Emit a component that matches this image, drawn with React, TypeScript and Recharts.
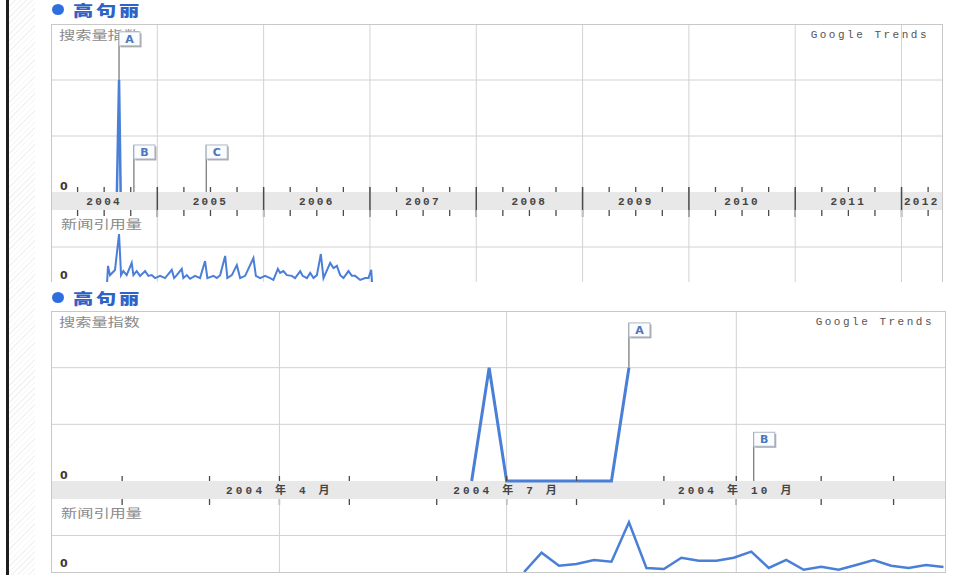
import React from "react";
import { LineChart, Line, XAxis, YAxis, ReferenceLine, ReferenceDot } from "recharts";

// top panel: 2004 - 2012, x in years
const topYearStarts = [2005, 2006, 2007, 2008, 2009, 2010, 2011, 2012];
const topQuarterTicks = [
  2004.25, 2004.5, 2004.75, 2005.25, 2005.5, 2005.75, 2006.25, 2006.5, 2006.75,
  2007.25, 2007.5, 2007.75, 2008.25, 2008.5, 2008.75, 2009.25, 2009.5, 2009.75,
  2010.25, 2010.5, 2010.75, 2011.25, 2011.5, 2011.75, 2012.25,
];
const topLabelPos = [2004.5, 2005.5, 2006.5, 2007.5, 2008.5, 2009.5, 2010.5, 2011.5, 2012.19];
const topLabelText = ["2004", "2005", "2006", "2007", "2008", "2009", "2010", "2011", "2012"];

const topSearchYears = [2004.62, 2004.64, 2004.655];
const topSearchValues = [0, 2, 0];

const topNewsYears = [
  2004.527, 2004.536, 2004.555, 2004.602, 2004.64, 2004.659, 2004.68, 2004.712, 2004.759, 2004.775,
  2004.806, 2004.838, 2004.885, 2004.916, 2004.947, 2004.979, 2005.026, 2005.073, 2005.136, 2005.158,
  2005.183, 2005.23, 2005.245, 2005.277, 2005.308, 2005.355, 2005.402, 2005.449, 2005.471, 2005.528,
  2005.56, 2005.591, 2005.638, 2005.659, 2005.701, 2005.748, 2005.779, 2005.826, 2005.904, 2005.927,
  2005.967, 2006.014, 2006.061, 2006.092, 2006.134, 2006.155, 2006.186, 2006.218, 2006.265, 2006.296,
  2006.344, 2006.367, 2006.407, 2006.438, 2006.469, 2006.501, 2006.538, 2006.563, 2006.626, 2006.657,
  2006.689, 2006.72, 2006.751, 2006.798, 2006.83, 2006.861, 2006.908, 2006.955, 2006.986, 2007.012,
  2007.021,
];
const topNewsValues = [
  0, 0.49, 0.24, 0.38, 1.35, 0.24, 0.35, 0.24, 0.57, 0.24,
  0.35, 0.22, 0.35, 0.22, 0.24, 0.16, 0.22, 0.16, 0.38, 0.16,
  0.24, 0.41, 0.16, 0.24, 0.14, 0.22, 0.16, 0.62, 0.16, 0.22,
  0.16, 0.24, 0.76, 0.16, 0.24, 0.51, 0.16, 0.22, 0.7, 0.22,
  0.16, 0.22, 0.16, 0.11, 0.41, 0.3, 0.35, 0.24, 0.22, 0.16,
  0.35, 0.22, 0.16, 0.3, 0.16, 0.24, 0.81, 0.16, 0.57, 0.43,
  0.49, 0.24, 0.16, 0.35, 0.22, 0.22, 0.11, 0.16, 0.16, 0.38,
  0,
];

const topFlagLetters = ["A", "B", "C"];
const topFlagYears = [2004.64, 2004.78, 2005.46];
const topFlagBase = [2, 0, 0];

// bottom panel: 2004, x in day of year
const bottomQuarterDays = [91, 182, 274];
const bottomLabelText = ["2004 年 4 月", "2004 年 7 月", "2004 年 10 月"];
const bottomWeekTicks = [28, 63, 91, 119, 154, 182, 210, 245, 274, 308, 337];

const bottomSearchDays = [168, 175, 182, 189, 196, 203, 210, 217, 224, 231];
const bottomSearchValues = [0, 2, 0, 0, 0, 0, 0, 0, 0, 2];

const bottomNewsDays = [
  189, 196, 203, 210, 217, 224, 231, 238, 245, 252, 259, 266, 273,
  280, 287, 294, 301, 308, 315, 322, 329, 336, 343, 350, 357,
];
const bottomNewsValues = [
  0, 0.53, 0.17, 0.22, 0.33, 0.28, 1.36, 0.11, 0.08, 0.39, 0.31, 0.31, 0.39,
  0.56, 0.11, 0.33, 0.06, 0.14, 0.06, 0.19, 0.33, 0.17, 0.11, 0.19, 0.14,
];

const bottomFlagLetters = ["A", "B"];
const bottomFlagDays = [231, 281];
const bottomFlagBase = [2, 0];

const BLUE = "#4a7fd8";
const GRID = "#d2d2d2";
const TICK = "#4a4a4a";
const BAND = 18;

type BandCfg = { labels: number[]; texts: string[]; marks: number[]; seps: number[]; spacing: number };

function BandTick(props: any) {
  const { x, y, payload, cfg } = props;
  const v = payload.value;
  const li = cfg.labels.indexOf(v);
  return (
    <g>
      {cfg.seps.includes(v) && (
        <line x1={x} x2={x} y1={y - 5} y2={y + 25} stroke={TICK} strokeWidth={1.5} />
      )}
      {cfg.marks.includes(v) && (
        <g>
          <line x1={x} x2={x} y1={y - 5} y2={y} stroke={TICK} strokeWidth={1.3} />
          <line x1={x} x2={x} y1={y + BAND} y2={y + BAND + 6} stroke={TICK} strokeWidth={1.3} />
        </g>
      )}
      {li >= 0 && (
        <text
          x={x}
          y={y + 13}
          textAnchor="middle"
          fontSize={11}
          fontWeight="bold"
          letterSpacing={cfg.spacing}
          fill="#444"
          fontFamily="'Liberation Mono', 'Noto Sans CJK SC', monospace"
        >
          {cfg.texts[li]}
        </text>
      )}
    </g>
  );
}

function FlagBox(props: any) {
  const { cx, cy, letter } = props;
  return (
    <g>
      <rect x={cx + 1.5} y={cy + 1.5} width={21} height={14} fill="#a8a8a8" />
      <rect x={cx} y={cy} width={21} height={14} fill="#fbfcfe" stroke="#aeb8c8" />
      <text
        x={cx + 10.5}
        y={cy + 11}
        textAnchor="middle"
        fontSize={11}
        fontWeight="bold"
        fill="#4a76c0"
        fontFamily="'DejaVu Sans', sans-serif"
      >
        {letter}
      </text>
    </g>
  );
}

const grayCjk: React.CSSProperties = {
  position: "absolute",
  fontFamily: "'Noto Sans CJK SC', sans-serif",
  fontSize: 12,
  lineHeight: "12px",
  color: "#8a8a8a",
  transform: "scaleX(1.35)",
  transformOrigin: "left center",
  whiteSpace: "nowrap",
};

const zeroStyle: React.CSSProperties = {
  position: "absolute",
  fontFamily: "'DejaVu Sans', sans-serif",
  fontSize: 11,
  lineHeight: "11px",
  fontWeight: "bold",
  color: "#3a3a3a",
};

function Title({ top }: { top: number }) {
  return (
    <>
      <div
        style={{
          position: "absolute",
          left: 52,
          top: top - 6,
          width: 12,
          height: 11,
          borderRadius: "50%",
          background: "#2e6fe0",
        }}
      />
      <div
        style={{
          position: "absolute",
          left: 73,
          top: top - 9,
          fontFamily: "'Noto Sans CJK SC', sans-serif",
          fontSize: 15,
          lineHeight: "18px",
          fontWeight: 900,
          letterSpacing: 2,
          color: "#2f62c8",
          transform: "scaleX(1.35)",
          transformOrigin: "left center",
          whiteSpace: "nowrap",
        }}
      >
        高句丽
      </div>
    </>
  );
}

function Panel(props: any) {
  const {
    top, width, searchH, newsH, visibleH, domain, grid, cfg,
    searchX, searchV, newsX, newsV, flagLetters, flagX, flagBase, flagTops,
    searchW, newsW, trendsRight,
  } = props;
  const total = searchH + BAND + newsH;
  const searchRows = searchX.map((x: number, i: number) => ({ x, v: searchV[i] }));
  const newsRows = newsX.map((x: number, i: number) => ({ x, v: newsV[i] }));
  const allTicks = Array.from(
    new Set<number>([...cfg.labels, ...cfg.marks, ...cfg.seps])
  ).sort((a, b) => a - b);

  return (
    <div style={{ position: "absolute", left: 51, top, width, height: visibleH, overflow: "hidden" }}>
      <div style={{ position: "absolute", left: 0, top: searchH, width, height: BAND, background: "#e8e8e8" }} />
      <div style={{ ...grayCjk, left: 8, top: 5 }}>搜索量指数</div>
      <div style={{ ...grayCjk, left: 10, top: searchH + BAND + 8 }}>新闻引用量</div>
      <div
        style={{
          position: "absolute",
          right: trendsRight,
          top: 6,
          fontFamily: "'Liberation Mono', monospace",
          fontSize: 11,
          lineHeight: "11px",
          letterSpacing: 2.5,
          color: "#555",
          whiteSpace: "nowrap",
        }}
      >
        Google Trends
      </div>
      <div style={{ ...zeroStyle, left: 9, top: searchH - 11 }}>0</div>
      <div style={{ ...zeroStyle, left: 9, top: total - 14 }}>0</div>

      <div style={{ position: "absolute", left: 0, top: 0 }}>
        <LineChart
          width={width}
          height={searchH + BAND + 8}
          data={searchRows}
          margin={{ top: 0, right: 0, bottom: 8, left: 0 }}
        >
          <XAxis
            dataKey="x"
            type="number"
            domain={domain}
            ticks={allTicks}
            interval={0}
            tickSize={0}
            tickMargin={0}
            axisLine={false}
            tickLine={false}
            height={BAND}
            tick={(p: any) => <BandTick {...p} cfg={cfg} />}
          />
          <YAxis hide width={0} type="number" domain={[0, 3]} />
          {[1, 2].map((y) => (
            <ReferenceLine key={"h" + y} y={y} stroke={GRID} />
          ))}
          {grid.map((x: number) => (
            <ReferenceLine key={"v" + x} x={x} stroke={GRID} />
          ))}
          {flagLetters.map((l: string, i: number) => (
            <ReferenceLine
              key={"p" + l}
              segment={[
                { x: flagX[i], y: flagBase[i] },
                { x: flagX[i], y: flagTops[i] },
              ]}
              stroke="#555"
              ifOverflow="visible"
            />
          ))}
          <Line
            dataKey="v"
            stroke={BLUE}
            strokeWidth={searchW}
            dot={false}
            isAnimationActive={false}
          />
          {flagLetters.map((l: string, i: number) => (
            <ReferenceDot
              key={"f" + l}
              x={flagX[i]}
              y={flagTops[i]}
              r={3}
              ifOverflow="visible"
              shape={(p: any) => <FlagBox cx={p.cx} cy={p.cy} letter={l} />}
            />
          ))}
        </LineChart>
      </div>

      <div style={{ position: "absolute", left: 0, top: searchH + BAND }}>
        <LineChart
          width={width}
          height={newsH}
          data={newsRows}
          margin={{ top: 0, right: 0, bottom: 0, left: 0 }}
        >
          <XAxis hide dataKey="x" type="number" domain={domain} />
          <YAxis hide width={0} type="number" domain={[0, 2]} />
          <ReferenceLine y={1} stroke={GRID} />
          {grid.map((x: number) => (
            <ReferenceLine key={"v" + x} x={x} stroke={GRID} />
          ))}
          <Line
            dataKey="v"
            stroke={BLUE}
            strokeWidth={newsW}
            dot={false}
            isAnimationActive={false}
          />
        </LineChart>
      </div>

      <div
        style={{
          position: "absolute",
          left: 0,
          top: 0,
          width,
          height: total + 1,
          border: "1px solid #c8c8c8",
          boxSizing: "border-box",
          pointerEvents: "none",
        }}
      />
    </div>
  );
}

export default function App() {
  return (
    <div
      style={{
        position: "fixed",
        left: 0,
        top: 0,
        width: 957,
        height: 575,
        background: "#fff",
        overflow: "hidden",
      }}
    >
      <div style={{ position: "absolute", left: 6, top: 0, width: 3, height: 575, background: "#1e1e1e" }} />
      <div
        style={{
          position: "absolute",
          left: 9,
          top: 0,
          width: 26,
          height: 575,
          background: "repeating-linear-gradient(135deg, #f3f3f3 0px, #f3f3f3 1px, #ffffff 1px, #ffffff 4px)",
        }}
      />

      <Title top={10} />
      <Panel
        top={24}
        width={892}
        searchH={168}
        newsH={74}
        visibleH={258}
        domain={[2004, 2012.39]}
        grid={topYearStarts}
        cfg={{ labels: topLabelPos, texts: topLabelText, marks: topQuarterTicks, seps: topYearStarts, spacing: 2.3 }}
        searchX={topSearchYears}
        searchV={topSearchValues}
        newsX={topNewsYears}
        newsV={topNewsValues}
        flagLetters={topFlagLetters}
        flagX={topFlagYears}
        flagBase={topFlagBase}
        flagTops={[2.86, 0.84, 0.84]}
        searchW={2.5}
        newsW={2}
        trendsRight={14}
      />

      <Title top={298} />
      <Panel
        top={311}
        width={895}
        searchH={170}
        newsH={73}
        visibleH={262}
        domain={[-0.5, 358]}
        grid={bottomQuarterDays}
        cfg={{ labels: bottomQuarterDays, texts: bottomLabelText, marks: bottomWeekTicks, seps: [], spacing: 3.2 }}
        searchX={bottomSearchDays}
        searchV={bottomSearchValues}
        newsX={bottomNewsDays}
        newsV={bottomNewsValues}
        flagLetters={bottomFlagLetters}
        flagX={bottomFlagDays}
        flagBase={bottomFlagBase}
        flagTops={[2.79, 0.86]}
        searchW={3}
        newsW={2.5}
        trendsRight={12}
      />
    </div>
  );
}
